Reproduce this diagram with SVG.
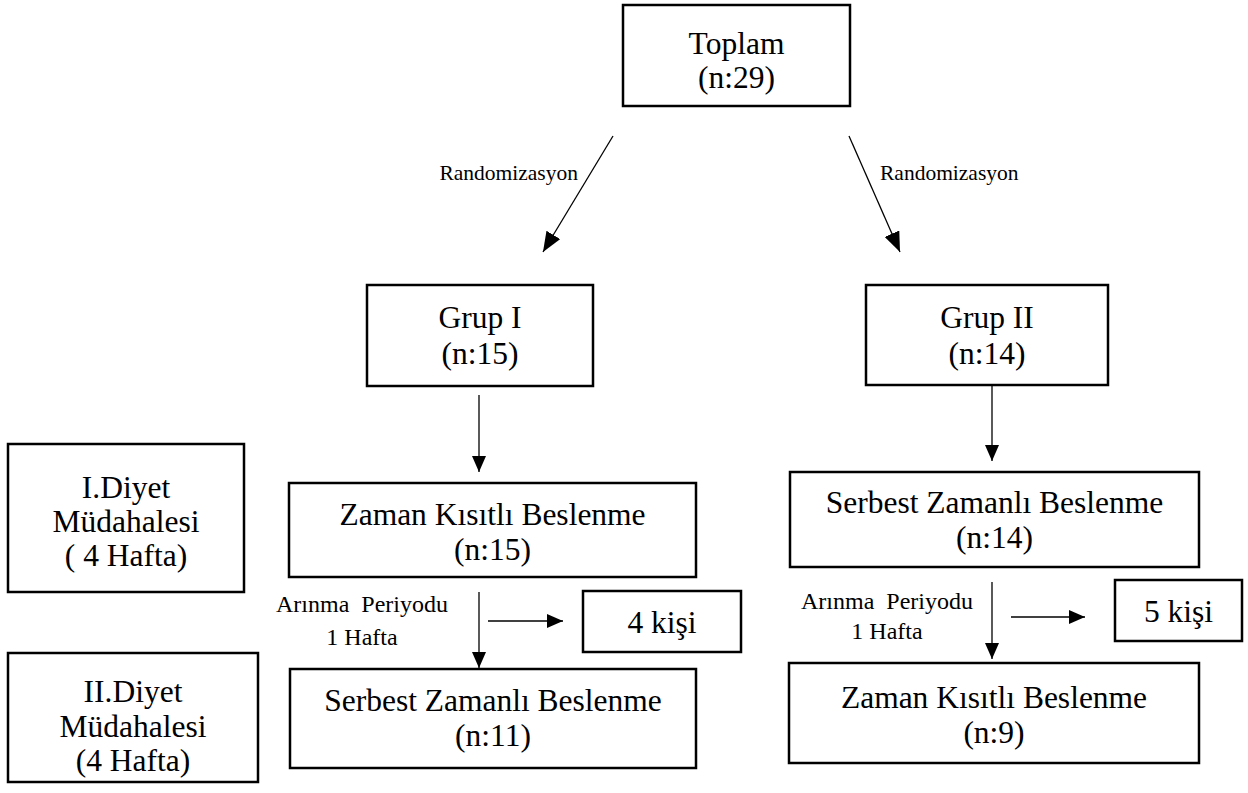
<svg xmlns="http://www.w3.org/2000/svg" width="1248" height="793" viewBox="0 0 1248 793">
<style>
.box{fill:#fff;stroke:#000;stroke-width:2.5}
.t{font-family:"Liberation Serif","Times New Roman",serif;font-size:31.5px;fill:#000;text-anchor:middle}
.s{font-family:"Liberation Serif","Times New Roman",serif;font-size:21.5px;fill:#000}
.a{font-family:"Liberation Serif","Times New Roman",serif;font-size:24px;fill:#000;text-anchor:middle}
.c{stroke:#000;stroke-width:1.3;fill:none}
</style>
<defs>
<marker id="ah" markerUnits="userSpaceOnUse" viewBox="0 0 16 14" refX="16" refY="7" markerWidth="16" markerHeight="14" orient="auto">
<path d="M0,0 L16,7 L0,14 Z" fill="#000"/>
</marker>
<marker id="ahb" markerUnits="userSpaceOnUse" viewBox="0 0 20 16" refX="20" refY="8" markerWidth="20" markerHeight="16" orient="auto">
<path d="M0,0 L20,8 L0,16 Z" fill="#000"/>
</marker>
</defs>
<rect width="1248" height="793" fill="#fff"/>
<g id="connectors">
<line class="c" x1="613" y1="136" x2="543" y2="252" marker-end="url(#ahb)"/>
<line class="c" x1="849" y1="136" x2="900" y2="252" marker-end="url(#ahb)"/>
<line class="c" x1="479" y1="395" x2="479" y2="472" marker-end="url(#ah)"/>
<line class="c" x1="992" y1="385" x2="992" y2="461" marker-end="url(#ah)"/>
<line class="c" x1="479" y1="592" x2="479" y2="668" marker-end="url(#ah)"/>
<line class="c" x1="488" y1="621" x2="563" y2="621" marker-end="url(#ah)"/>
<line class="c" x1="992" y1="582" x2="992" y2="659" marker-end="url(#ah)"/>
<line class="c" x1="1011" y1="617" x2="1085" y2="617" marker-end="url(#ah)"/>
<text class="s" x="578" y="180" text-anchor="end">Randomizasyon</text>
<text class="s" x="880" y="180">Randomizasyon</text>
<text class="a" x="362" y="612" xml:space="preserve">Arınma  Periyodu</text>
<text class="a" x="362" y="645">1 Hafta</text>
<text class="a" x="887" y="609" xml:space="preserve">Arınma  Periyodu</text>
<text class="a" x="887" y="639">1 Hafta</text>
</g>
<g id="toplam">
<rect class="box" x="623" y="5" width="227" height="101"/>
<text class="t" x="736.5" y="54">Toplam</text>
<text class="t" x="736.5" y="88">(n:29)</text>
</g>
<g id="grup1">
<rect class="box" x="367" y="285" width="226" height="101"/>
<text class="t" x="480" y="328">Grup I</text>
<text class="t" x="480" y="364">(n:15)</text>
</g>
<g id="grup2">
<rect class="box" x="866" y="285" width="242" height="100"/>
<text class="t" x="987" y="328">Grup II</text>
<text class="t" x="987" y="364">(n:14)</text>
</g>
<g id="diyet1">
<rect class="box" x="8" y="444" width="236" height="148"/>
<text class="t" x="126" y="498">I.Diyet</text>
<text class="t" x="126" y="532">Müdahalesi</text>
<text class="t" x="126" y="566" xml:space="preserve">( 4 Hafta)</text>
</g>
<g id="diyet2">
<rect class="box" x="8" y="653" width="250" height="129"/>
<text class="t" x="133" y="702">II.Diyet</text>
<text class="t" x="133" y="737">Müdahalesi</text>
<text class="t" x="133" y="771">(4 Hafta)</text>
</g>
<g id="g1-zaman">
<rect class="box" x="289" y="483" width="407" height="94"/>
<text class="t" x="492.5" y="525">Zaman Kısıtlı Beslenme</text>
<text class="t" x="492.5" y="560">(n:15)</text>
</g>
<g id="g2-serbest">
<rect class="box" x="790" y="472" width="409" height="95"/>
<text class="t" x="994.5" y="513">Serbest Zamanlı Beslenme</text>
<text class="t" x="994.5" y="548">(n:14)</text>
</g>
<g id="kisi4">
<rect class="box" x="583" y="591" width="158" height="61"/>
<text class="t" x="662" y="633">4 kişi</text>
</g>
<g id="kisi5">
<rect class="box" x="1115" y="580" width="127" height="61"/>
<text class="t" x="1178.5" y="622">5 kişi</text>
</g>
<g id="g1-serbest">
<rect class="box" x="290" y="669" width="406" height="99"/>
<text class="t" x="493" y="711">Serbest Zamanlı Beslenme</text>
<text class="t" x="493" y="746">(n:11)</text>
</g>
<g id="g2-zaman">
<rect class="box" x="789" y="663" width="410" height="100"/>
<text class="t" x="994" y="708">Zaman Kısıtlı Beslenme</text>
<text class="t" x="994" y="743">(n:9)</text>
</g>
</svg>
